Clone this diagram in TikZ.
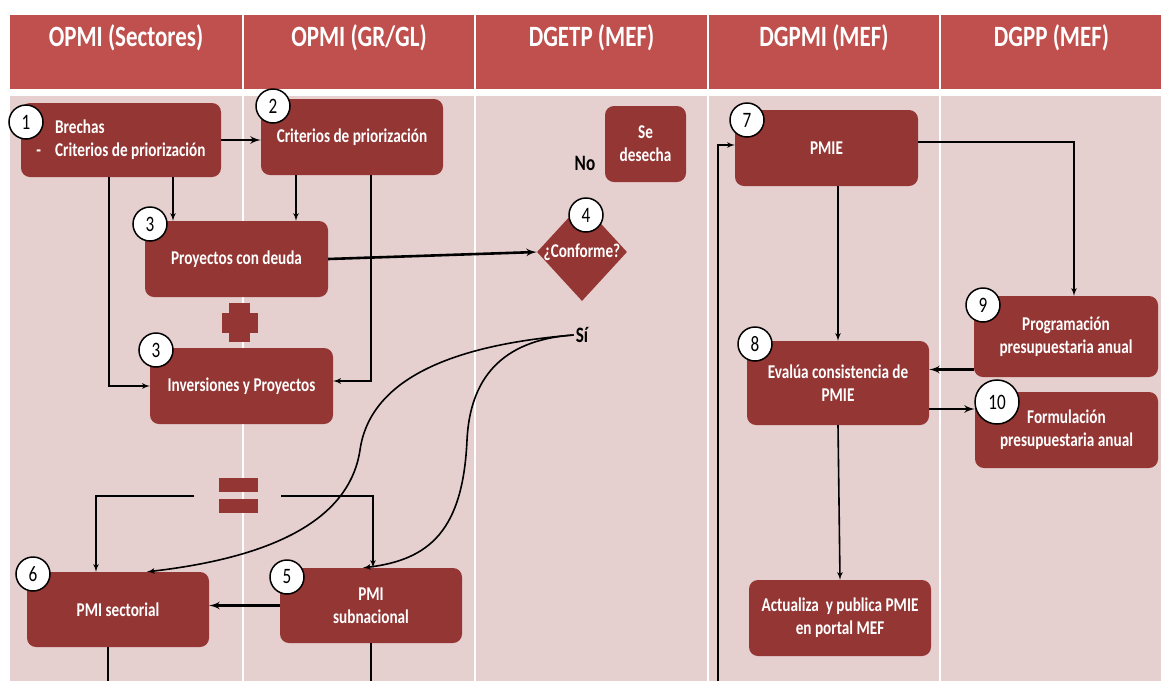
\documentclass[tikz,border=0pt]{standalone}
\usepackage{fontspec}
\setmainfont{Carlito}[FakeStretch=0.78]
\usepackage{tikz}
\usetikzlibrary{arrows,shapes.geometric}
\definecolor{cabecera}{HTML}{C0504D}
\definecolor{fondo}{HTML}{E6CFCF}
\definecolor{rojocaja}{HTML}{943634}
\tikzset{
    %Define standard arrow tip
    >=latex',
    %Define style for boxes
    caja/.style={
           rectangle,
           rounded corners=9pt,
           fill=rojocaja,
           text=white,
           inner sep=2pt,
           align=center,
           font=\fontsize{19.5}{23}\selectfont\bfseries},
    % Define style for the decision
    decision/.style={diamond,fill=rojocaja,minimum width=90pt,minimum height=98pt,inner sep=0pt},
    % Define arrow style
    linea/.style={->, line width=1.6pt},
    gruesa/.style={->, line width=2.6pt},
    % Define standard node style
    paso/.style={circle,fill=white,draw=black,line width=1.5pt,minimum size=34pt,inner sep=0pt,font=\fontsize{22}{22}\selectfont},
    titulo/.style={text=white,font=\fontsize{29.5}{29.5}\selectfont\bfseries},
    etiqueta/.style={inner sep=2pt,font=\fontsize{22}{22}\selectfont\bfseries}
}

\begin{document}
\begin{tikzpicture}[x=1pt,y=-1pt]
  \useasboundingbox (0,0) rectangle (1161,681);
  % columns
  \foreach \xa/\xb/\titulo in {9/243/{OPMI (Sectores)}, 243/475/{OPMI (GR/GL)}, 475/708/{DGETP (MEF)}, 708/940/{DGPMI (MEF)}, 940/1163/{DGPP (MEF)}}{
    \fill[cabecera] (\xa+1,15) rectangle (\xb-1,89);
    \fill[fondo] (\xa+1,96) rectangle (\xb-1,681);
    \node[titulo] (col\xa) at ({(\xa+\xb)/2},38) {\titulo};
  }
  % boxes
  \node[caja, minimum width=200pt, minimum height=74pt, align=left] (b1) at (121,140) {\hphantom{-}\hspace{14pt}Brechas\\-\hspace{14pt}Criterios de priorización};
  \node[caja, minimum width=182pt, minimum height=76pt] (b2) at (352,137) {Criterios de priorización};
  \node[caja, minimum width=183pt, minimum height=76pt] (b3a) at (236.5,259) {Proyectos con deuda};
  \node[caja, minimum width=183pt, minimum height=76pt] (b3b) at (241.5,386) {Inversiones y Proyectos};
  \node[caja, minimum width=182pt, minimum height=75pt] (b6) at (118,609.5) {PMI sectorial};
  \node[caja, minimum width=182pt, minimum height=75pt] (b5) at (371,605.5) {PMI\\subnacional};
  \node[caja, minimum width=81pt, minimum height=76pt] (desecha) at (645.5,144) {Se\\desecha};
  \node[decision, label={[text=white,font=\fontsize{19.5}{23}\selectfont\bfseries]center:¿Conforme?}] (dia) at (582,252) {};
  \node[caja, minimum width=183pt, minimum height=76pt] (b7) at (826.5,148) {PMIE};
  \node[caja, minimum width=182pt, minimum height=84pt] (b8) at (838,383) {Evalúa consistencia de\\PMIE};
  \node[caja, minimum width=184pt, minimum height=81pt] (b9) at (1066,336.5) {Programación\\presupuestaria anual};
  \node[caja, minimum width=183pt, minimum height=76pt] (b10) at (1066.5,430) {Formulación\\presupuestaria anual};
  \node[caja, minimum width=182pt, minimum height=76pt] (b11) at (840,618) {Actualiza~ y publica PMIE\\en portal MEF};
  % plus and equals
  \fill[rojocaja] (222,313) rectangle (258,333);
  \fill[rojocaja] (229,303) rectangle (250,342);
  \fill[rojocaja] (219,478) rectangle (258,492);
  \fill[rojocaja] (219,499) rectangle (258,513);
  % labels
  \node[etiqueta] (no) at (585,163) {No};
  \node[etiqueta] (si) at (582,335) {Sí};
  \coordinate (igualI) at (194,496);
  \coordinate (igualD) at (281,496);
  \coordinate (finA) at (108,681);
  \coordinate (finB) at (371,681);
  \coordinate (inicio) at (718,681);
  % connectors
  \draw[gruesa] (b1.east) -- (b1.east -| b2.west);
  \draw[linea] ([xshift=52pt]b1.south) -- ([xshift=52pt]b1.south |- b3a.north);
  \draw[linea] ([xshift=-56pt]b2.south) -- ([xshift=-56pt]b2.south |- b3a.north);
  \draw[linea] ([xshift=-12pt]b1.south) |- (b3b.west);
  \draw[linea] ([xshift=19pt]b2.south) |- ([yshift=5pt]b3b.east);
  \draw[gruesa] (b3a.east) -- (dia.west);
  \draw[linea] (igualI) -| ([xshift=-22pt]b6.north);
  \draw[linea] (igualD) -| ([xshift=2pt]b5.north);
  \draw[linea] (si.west) .. controls (450,345) and (370,380) .. (360,450)
                         .. controls (348,530) and (250,560) .. ([xshift=29pt]b6.north);
  \draw[linea] (si.west) .. controls (500,340) and (470,380) .. (467,440)
                         .. controls (463,530) and (430,560) .. ([xshift=-8pt]b5.north);
  \draw[gruesa] (b5.west) -- (b5.west -| b6.east);
  \draw[line width=1.6pt] ([xshift=-10pt]b6.south) -- (finA);
  \draw[line width=1.6pt] (b5.south) -- (finB);
  \draw[linea] (inicio) |- ([yshift=3pt]b7.west);
  \draw[linea] ([yshift=6pt]b7.east) -| ([xshift=8pt]b9.north);
  \draw[linea] (b8.north |- b7.south) -- (b8.north);
  \draw[gruesa] ([yshift=-33pt]b9.west) -- ([yshift=-33pt]b9.west -| b8.east);
  \draw[gruesa] ([yshift=21pt]b10.west -| b8.east) -- ([yshift=21pt]b10.west);
  \draw[linea] (b8.south) -- (b11.north);
  % steps
  \node[paso] (p1) at (26,122) {1};
  \node[paso] (p2) at (273,106) {2};
  \node[paso] (p3a) at (150,224) {3};
  \node[paso] (p3b) at (156,350) {3};
  \node[paso] (p4) at (586,215) {4};
  \node[paso] (p5) at (287,577) {5};
  \node[paso] (p6) at (33,574) {6};
  \node[paso] (p7) at (747,120) {7};
  \node[paso] (p8) at (755,344) {8};
  \node[paso] (p9) at (983,305) {9};
  \node[paso, minimum size=44pt] (p10) at (997,402) {10};
\end{tikzpicture}
\end{document}
